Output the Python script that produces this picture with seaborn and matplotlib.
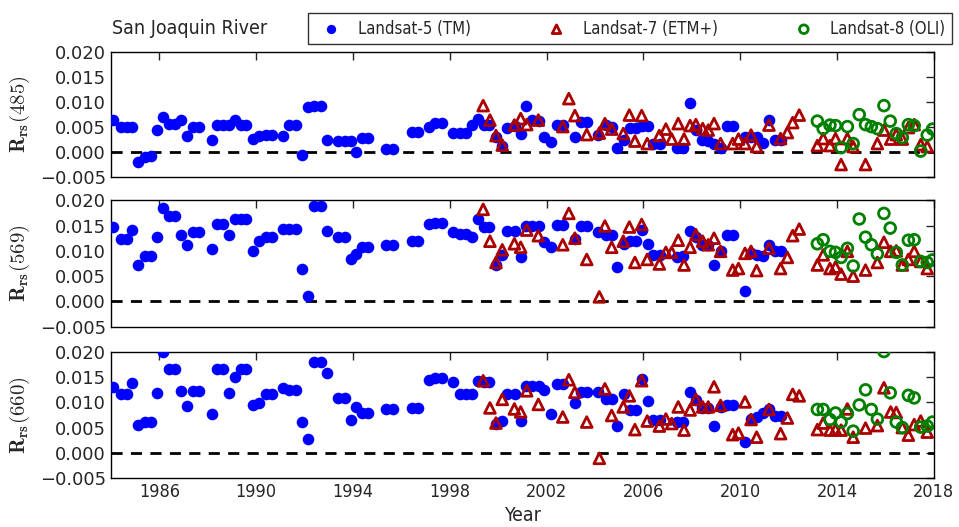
import numpy as np
import matplotlib
matplotlib.use("Agg")
import matplotlib.pyplot as plt
from matplotlib.ticker import FuncFormatter
import seaborn as sns

# ---- data ----
l5_year = [1984.10, 1984.40, 1984.65, 1984.88, 1985.13, 1985.40, 1985.64, 1985.89,
           1986.13, 1986.40, 1986.64, 1986.89, 1987.15, 1987.40, 1987.65, 1988.16,
           1988.39, 1988.62, 1988.87, 1989.12, 1989.37, 1989.60, 1989.88, 1990.13,
           1990.40, 1990.66, 1991.12, 1991.37, 1991.64, 1991.88, 1992.15, 1992.40,
           1992.66, 1992.91, 1993.39, 1993.66, 1993.90, 1994.12, 1994.38, 1994.63,
           1995.35, 1995.66, 1996.43, 1996.68, 1997.15, 1997.39, 1997.66, 1998.15,
           1998.42, 1998.67, 1998.90, 1999.15, 1999.40, 1999.64, 1999.90,
           2000.15, 2000.38, 2000.69, 2000.93, 2001.15, 2001.41, 2001.70, 2001.91,
           2002.17, 2002.42, 2002.67, 2003.17, 2003.41, 2003.68, 2004.14, 2004.45,
           2004.69, 2004.92, 2005.20, 2005.45, 2005.69, 2005.93, 2006.18, 2006.41,
           2006.69, 2007.38, 2007.65, 2007.93, 2008.17, 2008.41, 2008.68, 2008.92,
           2009.20, 2009.44, 2009.72, 2010.20, 2010.43, 2010.71, 2010.95, 2011.20,
           2011.44, 2011.67]

l5_485 = [0.0064, 0.0051, 0.0051, 0.0051, -0.0019, -0.0009, -0.0008, 0.0045,
          0.0071, 0.0057, 0.0057, 0.0064, 0.0032, 0.0051, 0.0051, 0.0025,
          0.0054, 0.0054, 0.0055, 0.0064, 0.0054, 0.0054, 0.0027, 0.0033,
          0.0035, 0.0035, 0.0032, 0.0054, 0.0054, -0.0006, 0.0090, 0.0092,
          0.0092, 0.0024, 0.0022, 0.0022, 0.0022, 0.0001, 0.0029, 0.0029,
          0.0007, 0.0007, 0.0041, 0.0041, 0.0051, 0.0058, 0.0058, 0.0039,
          0.0039, 0.0039, 0.0054, 0.0067, 0.0054, 0.0054, 0.0030,
          0.0012, 0.0049, 0.0052, 0.0036, 0.0092, 0.0064, 0.0062, 0.0031,
          0.0021, 0.0054, 0.0054, 0.0031, 0.0061, 0.0061, 0.0034, 0.0055,
          0.0051, 0.0009, 0.0024, 0.0049, 0.0049, 0.0053, 0.0053, 0.0016,
          0.0016, 0.0009, 0.0009, 0.0099, 0.0045, 0.0024, 0.0023, 0.0016,
          0.0009, 0.0052, 0.0052, 0.0030, 0.0031, 0.0031, 0.0019, 0.0065,
          0.0025, 0.0025]

l5_569 = [0.0147, 0.0124, 0.0124, 0.0141, 0.0072, 0.0089, 0.0089, 0.0127,
          0.0185, 0.0169, 0.0169, 0.0132, 0.0111, 0.0137, 0.0137, 0.0104,
          0.0153, 0.0153, 0.0131, 0.0162, 0.0162, 0.0162, 0.0099, 0.0119,
          0.0128, 0.0128, 0.0144, 0.0144, 0.0144, 0.0064, 0.0010, 0.0189,
          0.0189, 0.0140, 0.0128, 0.0128, 0.0084, 0.0093, 0.0107, 0.0107,
          0.0112, 0.0112, 0.0119, 0.0119, 0.0153, 0.0156, 0.0156, 0.0137,
          0.0134, 0.0134, 0.0128, 0.0162, 0.0147, 0.0147, 0.0073,
          0.0092, 0.0140, 0.0140, 0.0087, 0.0150, 0.0149, 0.0149, 0.0117,
          0.0107, 0.0151, 0.0151, 0.0124, 0.0149, 0.0149, 0.0137, 0.0131,
          0.0131, 0.0069, 0.0113, 0.0120, 0.0120, 0.0142, 0.0113, 0.0092,
          0.0092, 0.0087, 0.0089, 0.0140, 0.0128, 0.0112, 0.0112, 0.0073,
          0.0100, 0.0132, 0.0132, 0.0020, 0.0095, 0.0092, 0.0089, 0.0111,
          0.0100, 0.0100]

l5_660 = [0.0131, 0.0116, 0.0116, 0.0139, 0.0056, 0.0061, 0.0061, 0.0119,
          0.0201, 0.0166, 0.0166, 0.0123, 0.0093, 0.0123, 0.0123, 0.0077,
          0.0166, 0.0166, 0.0119, 0.0151, 0.0166, 0.0166, 0.0095, 0.0099,
          0.0116, 0.0116, 0.0128, 0.0124, 0.0124, 0.0061, 0.0028, 0.0181,
          0.0181, 0.0159, 0.0109, 0.0109, 0.0066, 0.0091, 0.0079, 0.0079,
          0.0086, 0.0086, 0.0088, 0.0088, 0.0144, 0.0148, 0.0148, 0.0141,
          0.0117, 0.0117, 0.0117, 0.0143, 0.0141, 0.0141, 0.0057,
          0.0064, 0.0117, 0.0117, 0.0064, 0.0133, 0.0133, 0.0133, 0.0124,
          0.0077, 0.0136, 0.0136, 0.0099, 0.0121, 0.0121, 0.0121, 0.0106,
          0.0106, 0.0053, 0.0116, 0.0084, 0.0084, 0.0146, 0.0103, 0.0066,
          0.0066, 0.0061, 0.0061, 0.0121, 0.0105, 0.0088, 0.0088, 0.0053,
          0.0090, 0.0095, 0.0095, 0.0021, 0.0068, 0.0071, 0.0079, 0.0086,
          0.0073, 0.0073]

l7_year = [1999.38, 1999.66, 1999.91, 2000.17, 2000.67, 2000.93, 2001.18, 2001.66,
           2002.67, 2002.92, 2003.17, 2003.66, 2004.18, 2004.41, 2004.69, 2005.17,
           2005.42, 2005.65, 2005.93, 2006.16, 2006.66, 2006.93, 2007.17, 2007.44,
           2007.68, 2007.93, 2008.17, 2008.45, 2008.68, 2008.92, 2009.19, 2009.69,
           2009.93, 2010.20, 2010.45, 2010.68, 2011.19, 2011.67, 2011.95, 2012.17,
           2012.44, 2013.19, 2013.43, 2013.71, 2013.94, 2014.17, 2014.43, 2014.67,
           2015.18, 2015.67, 2015.94, 2016.22, 2016.45, 2016.70, 2016.95, 2017.19,
           2017.46, 2017.73]

l7_485 = [0.0093, 0.0064, 0.0033, 0.0014, 0.0054, 0.0067, 0.0055, 0.0064,
          0.0051, 0.0107, 0.0073, 0.0035, 0.0038, 0.0057, 0.0046, 0.0037,
          0.0074, 0.0022, 0.0073, 0.0017, 0.0033, 0.0046, 0.0026, 0.0057,
          0.0026, 0.0053, 0.0055, 0.0047, 0.0044, 0.0057, 0.0017, 0.0017,
          0.0026, 0.0017, 0.0034, 0.0011, 0.0054, 0.0027, 0.0039, 0.0059,
          0.0074, 0.0013, 0.0027, 0.0013, 0.0027, -0.0025, 0.0027, 0.0011,
          -0.0025, 0.0017, 0.0044, 0.0026, 0.0035, 0.0026, 0.0049, 0.0055,
          0.0015, 0.0011]

l7_569 = [0.0182, 0.0119, 0.0077, 0.0102, 0.0114, 0.0107, 0.0141, 0.0130,
          0.0112, 0.0174, 0.0125, 0.0083, 0.0009, 0.0149, 0.0107, 0.0119,
          0.0147, 0.0077, 0.0152, 0.0083, 0.0074, 0.0097, 0.0097, 0.0121,
          0.0072, 0.0107, 0.0132, 0.0119, 0.0112, 0.0125, 0.0099, 0.0062,
          0.0065, 0.0095, 0.0099, 0.0061, 0.0105, 0.0065, 0.0087, 0.0130,
          0.0143, 0.0072, 0.0092, 0.0065, 0.0068, 0.0054, 0.0099, 0.0050,
          0.0062, 0.0077, 0.0117, 0.0099, 0.0100, 0.0072, 0.0083, 0.0099,
          0.0079, 0.0065]

l7_660 = [0.0143, 0.0089, 0.0059, 0.0106, 0.0087, 0.0081, 0.0123, 0.0096,
          0.0071, 0.0145, 0.0120, 0.0061, -0.0011, 0.0127, 0.0074, 0.0091,
          0.0113, 0.0046, 0.0143, 0.0063, 0.0053, 0.0067, 0.0058, 0.0091,
          0.0045, 0.0085, 0.0106, 0.0091, 0.0091, 0.0131, 0.0094, 0.0036,
          0.0039, 0.0101, 0.0066, 0.0031, 0.0086, 0.0038, 0.0069, 0.0116,
          0.0113, 0.0046, 0.0059, 0.0045, 0.0046, 0.0045, 0.0087, 0.0031,
          0.0049, 0.0054, 0.0129, 0.0081, 0.0080, 0.0050, 0.0035, 0.0056,
          0.0063, 0.0041]

l8_year = [2013.19, 2013.43, 2013.71, 2013.94, 2014.17, 2014.43, 2014.67, 2014.92,
           2015.18, 2015.42, 2015.67, 2015.94, 2016.20, 2016.45, 2016.70, 2016.95,
           2017.19, 2017.46, 2017.73, 2017.95]

l8_485 = [0.0062, 0.0047, 0.0054, 0.0053, 0.0009, 0.0051, 0.0017, 0.0075,
          0.0055, 0.0051, 0.0047, 0.0093, 0.0062, 0.0037, 0.0029, 0.0055,
          0.0053, 0.0002, 0.0034, 0.0046]

l8_569 = [0.0114, 0.0122, 0.0099, 0.0097, 0.0087, 0.0105, 0.0070, 0.0163,
          0.0127, 0.0112, 0.0094, 0.0174, 0.0145, 0.0097, 0.0072, 0.0121,
          0.0122, 0.0079, 0.0077, 0.0082]

l8_660 = [0.0086, 0.0086, 0.0066, 0.0079, 0.0061, 0.0078, 0.0043, 0.0095,
          0.0125, 0.0086, 0.0067, 0.0201, 0.0119, 0.0061, 0.0050, 0.0114,
          0.0109, 0.0051, 0.0053, 0.0061]

bands = ["485", "569", "660"]
l5_vals = [l5_485, l5_569, l5_660]
l7_vals = [l7_485, l7_569, l7_660]
l8_vals = [l8_485, l8_569, l8_660]

year_ticks = [1986, 1990, 1994, 1998, 2002, 2006, 2010, 2014, 2018]
y_ticks = [-0.005, 0.000, 0.005, 0.010, 0.015, 0.020]

# ---- style ----
sns.set_style("white")
plt.rcParams['font.family'] = ['DejaVu Sans']
plt.rcParams['mathtext.fontset'] = 'cm'

narrow = dict(family='DejaVu Sans', stretch='condensed')

fig = plt.figure(figsize=(9.59, 5.27), dpi=100)
left, width = 0.1157, 0.858
panels = [(0.664, 0.237), (0.380, 0.240), (0.093, 0.239)]

axes = []
for i, (bottom, height) in enumerate(panels):
    ax = fig.add_axes([left, bottom, width, height])
    axes.append(ax)

    ax.axhline(0, color='black', lw=2, ls=(0, (4, 3)), zorder=1)

    sns.scatterplot(x=l5_year, y=l5_vals[i], ax=ax, marker='o', s=70,
                    color='#0000ff', edgecolor='#0000ff', linewidth=0,
                    label='Landsat-5 (TM)', zorder=3, legend=False)
    sns.scatterplot(x=l7_year, y=l7_vals[i], ax=ax, marker='^', s=60,
                    color='#aa0000', facecolor='none', edgecolor='#aa0000',
                    linewidth=2, label='Landsat-7 (ETM+)', zorder=4, legend=False)
    sns.scatterplot(x=l8_year, y=l8_vals[i], ax=ax, marker='o', s=60,
                    color='#008000', facecolor='none', edgecolor='#008000',
                    linewidth=2, label='Landsat-8 (OLI)', zorder=5, legend=False)

    ax.set_xlim(1984, 2018)
    ax.set_ylim(-0.005, 0.020)
    ax.set_xticks(year_ticks)
    ax.set_yticks(y_ticks)
    ax.yaxis.set_major_formatter(
        FuncFormatter(lambda v, p: f"{v:.3f}".replace('-', '\u2212')))
    ax.tick_params(direction='in', length=6, width=1, top=True, right=True,
                   labelsize=13)
    for sp in ax.spines.values():
        sp.set_color('black')
        sp.set_linewidth(1)
    ax.set_ylabel(r'$\mathbf{R_{rs}}(' + bands[i] + ')$', fontsize=15, labelpad=6)
    ax.set_xlabel('')
    if i < 2:
        ax.set_xticklabels([])
    else:
        ax.set_xticklabels([str(t) for t in year_ticks], fontdict=narrow, fontsize=13)
        ax.set_xlabel('Year', fontdict=narrow, fontsize=14)

fig.text(0.117, 0.945, 'San Joaquin River', ha='left', va='center',
         fontsize=14, **narrow)

handles, labels = axes[0].get_legend_handles_labels()
leg = fig.legend(handles, labels, ncol=3, loc='lower left',
                 bbox_to_anchor=(0.321, 0.916, 0.672, 0.06), mode='expand',
                 frameon=True, fancybox=False, edgecolor='black',
                 prop=dict(family='DejaVu Sans', stretch='condensed', size=12),
                 handletextpad=0.6, borderaxespad=0, markerscale=0.8)
leg.get_frame().set_linewidth(1)

fig.savefig('out.png', dpi=100)
